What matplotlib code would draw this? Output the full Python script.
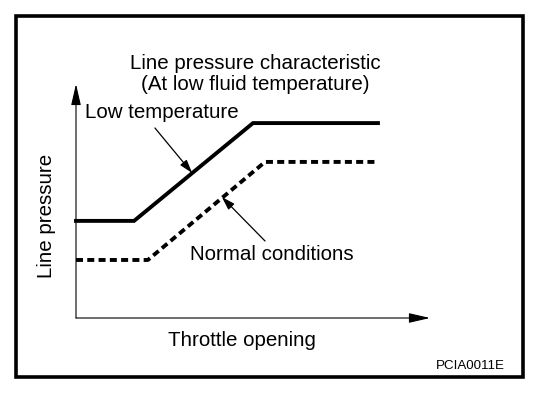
import matplotlib
matplotlib.use("Agg")
import matplotlib.pyplot as plt
from matplotlib.patches import Rectangle

# ---------------------------------------------------------
# Data (throttle opening %, line pressure % of axis)
# ---------------------------------------------------------
low_temp_x = [0, 16.4, 50.0, 85.3]
low_temp_y = [41.5, 41.5, 83.3, 83.3]

normal_x = [0, 20.3, 53.4, 85.3]
normal_y = [24.8, 24.8, 66.7, 66.7]

title_text = "Line pressure characteristic\n(At low fluid temperature)"
x_label = "Throttle opening"
y_label = "Line pressure"
low_label = "Low temperature"
normal_label = "Normal conditions"
code_label = "PCIA0011E"

plt.rcParams["font.family"] = ["Liberation Sans", "DejaVu Sans"]

W, H = 560, 394
fig = plt.figure(figsize=(W / 100, H / 100), dpi=100)

# outer frame
fig.patches.append(
    Rectangle((16 / W, 1 - 377 / H), (523 - 16) / W, (377 - 16) / H,
              transform=fig.transFigure, fill=False,
              edgecolor="black", linewidth=2.6)
)

ax = fig.add_axes([76 / W, 1 - 318 / H, 354 / W, 234 / H])
ax.set_xlim(0, 100)
ax.set_ylim(0, 100)
ax.axis("off")

# axes with arrow heads
axis_arrow = dict(arrowstyle="-|>,head_length=1.3,head_width=0.3",
                  color="black", lw=0.8, mutation_scale=10,
                  shrinkA=0, shrinkB=0)
ax.annotate("", xy=(0, 100), xytext=(0, 0), xycoords="data",
            arrowprops=axis_arrow, annotation_clip=False)
ax.annotate("", xy=(100, 0), xytext=(0, 0), xycoords="data",
            arrowprops=axis_arrow, annotation_clip=False)

# curves
ax.plot(low_temp_x, low_temp_y, color="black", lw=2.8,
        solid_joinstyle="miter", clip_on=False)
ax.plot(normal_x, normal_y, color="black", lw=2.8,
        linestyle=(0, (1.8, 1.1)), clip_on=False)

# pointers
pointer = dict(arrowstyle="-|>,head_length=0.8,head_width=0.25",
               color="black", lw=0.9, mutation_scale=10,
               shrinkA=0, shrinkB=0)
ax.annotate("", xy=(32.8, 62.0), xytext=(22.3, 81.2),
            arrowprops=pointer, annotation_clip=False)
ax.annotate("", xy=(41.2, 51.7), xytext=(53.4, 32.9),
            arrowprops=pointer, annotation_clip=False)

# texts
fs = 14.8
fig.text(255 / W, 1 - 74 / H, title_text, ha="center", va="center",
         fontsize=fs, linespacing=1.15)
fig.text(85 / W, 1 - 112 / H, low_label, ha="left", va="center", fontsize=fs)
fig.text(190 / W, 1 - 254 / H, normal_label, ha="left", va="center",
         fontsize=fs)
fig.text(47 / W, 1 - 216 / H, y_label, ha="center", va="center",
         rotation=90, fontsize=fs)
fig.text(242 / W, 1 - 341 / H, x_label, ha="center", va="center",
         fontsize=fs)
fig.text(470 / W, 1 - 366 / H, code_label, ha="center", va="center",
         fontsize=9.6)

fig.savefig("out.png", dpi=100)
